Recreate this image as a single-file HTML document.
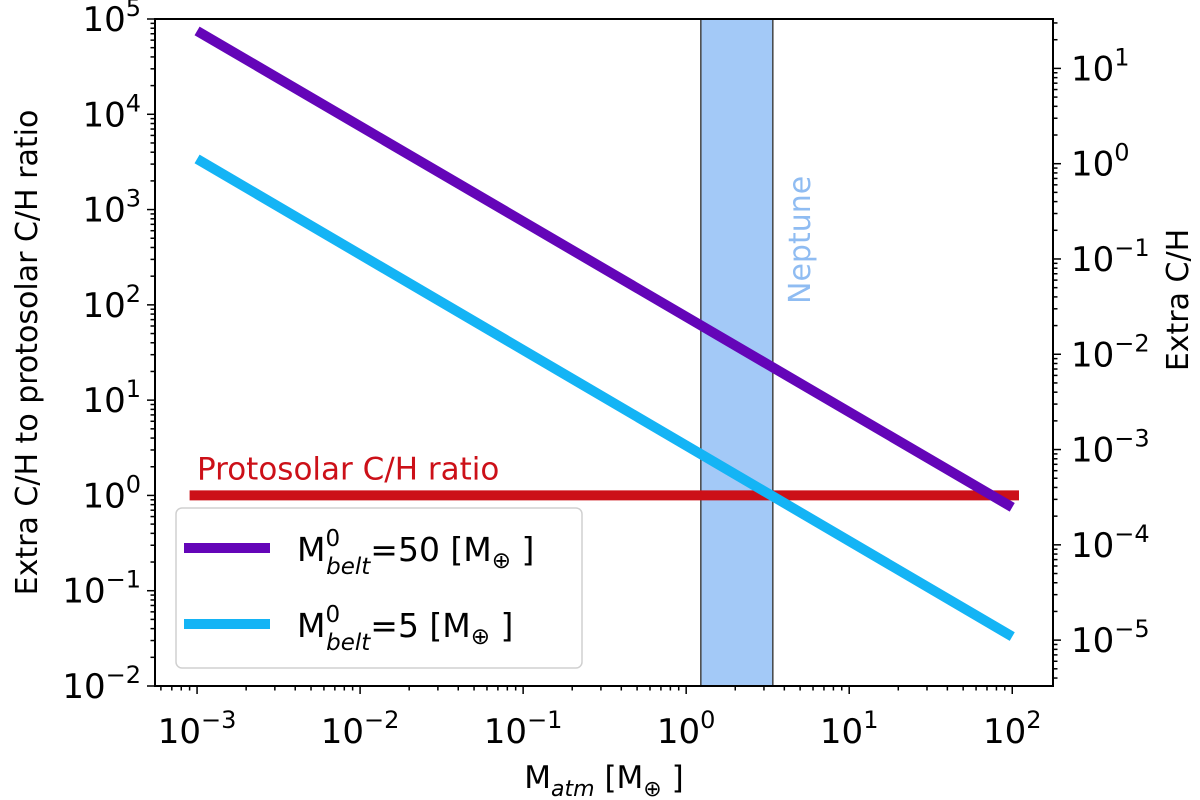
<!DOCTYPE html>
<html><head><meta charset="utf-8"><style>
html,body{margin:0;padding:0;background:#fff;}
svg{display:block;font-family:"DejaVu Sans","Liberation Sans",sans-serif;}
</style></head><body>
<svg id="chart" width="1200" height="800" viewBox="0 0 1200 800" xmlns="http://www.w3.org/2000/svg">
<g id="plot"></g>
</svg>
<script>
const xTickExps = [-3, -2, -1, 0, 1, 2];
const yTickExps = [-2, -1, 0, 1, 2, 3, 4, 5];
const y2TickExps = [-5, -4, -3, -2, -1, 0, 1];
const seriesX = [1e-3, 1e2];
const series50 = [7.5e4, 0.75];
const series5 = [3.4e3, 0.033];
const protosolarX = [9e-4, 1.1e2];
const protosolarY = [1, 1];
const neptuneBand = [1.23, 3.4];
const rightScale = 3.3e-4;

const L=155, R=1053, T=19, B=686;
const xMin=-3.258, xMax=2.25, yMin=-2, yMax=5;
const X=v=>L+(Math.log10(v)-xMin)/(xMax-xMin)*(R-L);
const Y=v=>B-(Math.log10(v)-yMin)/(yMax-yMin)*(B-T);
const NS="http://www.w3.org/2000/svg";
const g=document.getElementById('plot');
function mk(tag,attrs,parent){const e=document.createElementNS(NS,tag);for(const k in attrs)e.setAttribute(k,attrs[k]);(parent||g).appendChild(e);return e;}

// Neptune band
const band=mk('rect',{x:X(neptuneBand[0]),y:T,width:X(neptuneBand[1])-X(neptuneBand[0]),height:B-T,fill:'#a3c9f7',stroke:'#444','stroke-width':1.5});


const nt=mk('text',{x:0,y:0,fill:'#8fbcf2','font-size':30,transform:`translate(${X(neptuneBand[1])+37},${T+285}) rotate(-90)`});
nt.textContent='Neptune';



// protosolar line
const pl=mk('line',{x1:X(protosolarX[0]),y1:Y(protosolarY[0]),x2:X(protosolarX[1]),y2:Y(protosolarY[1]),stroke:'#cc1018','stroke-width':10});


const ptx=mk('text',{x:197,y:Y(1)-16,fill:'#cc1018','font-size':31});
ptx.textContent='Protosolar C/H ratio';



// series lines
const l50=mk('line',{x1:X(seriesX[0]),y1:Y(series50[0]),x2:X(seriesX[1]),y2:Y(series50[1]),stroke:'#6405b8','stroke-width':10});


const l5=mk('line',{x1:X(seriesX[0]),y1:Y(series5[0]),x2:X(seriesX[1]),y2:Y(series5[1]),stroke:'#14b4f5','stroke-width':10});



// legend
const lg=mk('g',{});


mk('rect',{x:176,y:508,width:406,height:160,rx:6,fill:'#fff','fill-opacity':0.85,stroke:'#d0d0d0','stroke-width':1.5},lg);
const entries=[['#6405b8','50',548,'legend-entry-50'],['#14b4f5','5',624,'legend-entry-5']];
for(const [c,v,yy,name] of entries){
  const e=mk('g',{},lg);
  
  
  mk('line',{x1:184,y1:yy,x2:270,y2:yy,stroke:c,'stroke-width':10},e);
  const t=mk('text',{x:297,y:yy+13,'font-size':33,fill:'#000'},e);
  t.innerHTML=`M<tspan dy="-15" font-size="23">0</tspan><tspan dx="-14" dy="28" font-size="23" font-style="italic">belt</tspan><tspan dy="-13">=${v} [M</tspan><tspan dy="7" font-size="23">⊕</tspan><tspan dy="-7"> ]</tspan>`;
}

// frame
const fr=mk('rect',{x:L,y:T,width:R-L,height:B-T,fill:'none',stroke:'#000','stroke-width':2});



// x ticks
for(let e=-4;e<=2;e++){for(let m=1;m<10;m++){const v=m*Math.pow(10,e);const x=X(v);if(x<L||x>R)continue;mk('line',{x1:x,y1:B,x2:x,y2:B+(m==1?8:4.5),stroke:'#000','stroke-width':1.5});}}
for(const e of xTickExps){
  const t=mk('text',{x:X(Math.pow(10,e)),y:743,'font-size':34,'text-anchor':'middle'});
  t.innerHTML=`10<tspan dy="-15" font-size="24">${e<0?'−'+(-e):e}</tspan>`;
  
  
}
// y ticks
for(let e=-2;e<=4;e++){for(let m=1;m<10;m++){const v=m*Math.pow(10,e);const y=Y(v);mk('line',{x1:L,y1:y,x2:L-(m==1?8:4.5),y2:y,stroke:'#000','stroke-width':1.5});}}
mk('line',{x1:L,y1:Y(1e5),x2:L-8,y2:Y(1e5),stroke:'#000','stroke-width':1.5});
for(const e of yTickExps){
  const t=mk('text',{x:141,y:Y(Math.pow(10,e))+12,'font-size':34,'text-anchor':'end'});
  t.innerHTML=`10<tspan dy="-15" font-size="24">${e<0?'−'+(-e):e}</tspan>`;
  
  
}
// right ticks
const Y2=v=>Y(v/rightScale);
for(let e=-6;e<=1;e++){for(let m=1;m<10;m++){const v=m*Math.pow(10,e);const y=Y2(v);if(y<T||y>B)continue;mk('line',{x1:R,y1:y,x2:R+(m==1?8:4.5),y2:y,stroke:'#000','stroke-width':1.5});}}
for(const e of y2TickExps){
  const t=mk('text',{x:1071,y:Y2(Math.pow(10,e))+12,'font-size':34});
  t.innerHTML=`10<tspan dy="-15" font-size="24">${e<0?'−'+(-e):e}</tspan>`;
  
  
}
// axis titles
const xt=mk('text',{x:604,y:788,'font-size':31,'text-anchor':'middle'});
xt.innerHTML='M<tspan dy="8" font-size="22" font-style="italic">atm</tspan><tspan dy="-8"> [M</tspan><tspan dy="8" font-size="22">⊕</tspan><tspan dy="-8"> ]</tspan>';


const yt=mk('text',{x:0,y:0,'font-size':30,'text-anchor':'middle',transform:`translate(37,${(T+B)/2}) rotate(-90)`});
yt.textContent='Extra C/H to protosolar C/H ratio';


const y2t=mk('text',{x:0,y:0,'font-size':30,'text-anchor':'middle',transform:`translate(1188,300) rotate(-90)`});
y2t.textContent='Extra C/H';


</script>
</body></html>
